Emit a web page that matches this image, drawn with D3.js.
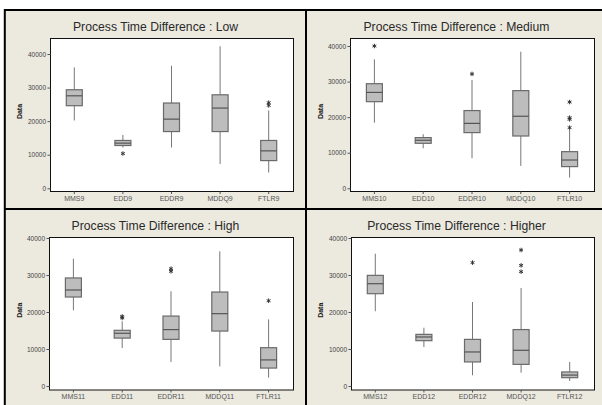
<!DOCTYPE html>
<html>
<head>
<meta charset="utf-8">
<script src="https://cdn.jsdelivr.net/npm/d3@7"></script>
<style>
  html, body { margin: 0; padding: 0; background: #ffffff; }
  svg { display: block; }
</style>
</head>
<body>
<svg id="chart" width="602" height="405"></svg>
<script>
// ---------- DATA ----------
const panelTitles = [
  "Process Time Difference : Low",
  "Process Time Difference : Medium",
  "Process Time Difference : High",
  "Process Time Difference : Higher"
];
const yTickValues = [0, 10000, 20000, 30000, 40000];
const yAxisLabel = "Data";

// categories
const categoriesLow    = ["MMS9", "EDD9", "EDDR9", "MDDQ9", "FTLR9"];
const categoriesMedium = ["MMS10", "EDD10", "EDDR10", "MDDQ10", "FTLR10"];
const categoriesHigh   = ["MMS11", "EDD11", "EDDR11", "MDDQ11", "FTLR11"];
const categoriesHigher = ["MMS12", "EDD12", "EDDR12", "MDDQ12", "FTLR12"];

// box stats: [lower whisker, Q1, median, Q3, upper whisker]
const statsLow = [
  [20200, 24600, 27550, 29350, 36000],
  [12150, 12750, 13450, 14250, 15900],
  [12150, 16900, 20600, 25400, 36500],
  [7250, 16900, 23900, 27850, 42300],
  [4700, 8250, 11150, 14250, 23200]
];
const statsMedium = [
  [18450, 24350, 26950, 29400, 36250],
  [11250, 12650, 13500, 14250, 15200],
  [8450, 15650, 18250, 21850, 30450],
  [6300, 14700, 20250, 27450, 38400],
  [3000, 6100, 7950, 10300, 16400]
];
const statsHigh = [
  [20450, 24050, 25950, 29200, 34400],
  [10250, 12950, 14250, 15050, 17500],
  [6500, 12600, 15250, 18900, 25600],
  [5300, 14850, 19550, 25400, 36400],
  [2250, 4850, 7050, 10350, 18000]
];
const statsHigher = [
  [20200, 24950, 27650, 29900, 35750],
  [10550, 12250, 13250, 13950, 15750],
  [2900, 6500, 9200, 12600, 22700],
  [3600, 5850, 9650, 15250, 26500],
  [1350, 2250, 2950, 3800, 6500]
];

// outliers per category
const outliersLow    = [[], [10350], [], [], [24700, 25500]];
const outliersMedium = [[40000], [], [32150], [], [17050, 19400, 19850, 24250]];
const outliersHigh   = [[], [18400, 18800], [31000, 31700], [], [23050]];
const outliersHigher = [[], [], [33350], [30900, 32600, 36750], []];

// ---------- LAYOUT ----------
const panels = [
  { title: panelTitles[0], cats: categoriesLow, stats: statsLow, outs: outliersLow,
    cx: 155.5, titleY: 27, left: 50, right: 293, top: 38, bottom: 191, zeroY: 188.3, maxY: 54, labelX: 19 },
  { title: panelTitles[1], cats: categoriesMedium, stats: statsMedium, outs: outliersMedium,
    cx: 456.5, titleY: 27, left: 350, right: 594, top: 38, bottom: 191, zeroY: 188.3, maxY: 46, labelX: 320 },
  { title: panelTitles[2], cats: categoriesHigh, stats: statsHigh, outs: outliersHigh,
    cx: 155.5, titleY: 226, left: 49, right: 293, top: 237, bottom: 389.5, zeroY: 386, maxY: 238, labelX: 19 },
  { title: panelTitles[3], cats: categoriesHigher, stats: statsHigher, outs: outliersHigher,
    cx: 456.5, titleY: 226, left: 351, right: 594, top: 237, bottom: 389.5, zeroY: 386, maxY: 238, labelX: 320 }
];

const svg = d3.select("#chart");

// beige background inside the frame
svg.append("rect").attr("x", 4).attr("y", 9).attr("width", 598).attr("height", 396).attr("fill", "#ECE9DF");

const fontFam = "Arial, 'Liberation Sans', sans-serif";

panels.forEach(p => {
  const g = svg.append("g");
  const x = d3.scaleBand().domain(p.cats).range([p.left, p.right]);
  const y = d3.scaleLinear().domain([0, 40000]).range([p.zeroY, p.maxY]);

  // plot area
  g.append("rect")
    .attr("x", p.left + 0.5).attr("y", p.top + 0.5)
    .attr("width", p.right - p.left).attr("height", p.bottom - p.top)
    .attr("fill", "#ffffff").attr("stroke", "#111").attr("stroke-width", 1);

  // title
  g.append("text")
    .attr("x", p.cx).attr("y", p.titleY)
    .attr("text-anchor", "middle").attr("dominant-baseline", "central")
    .attr("font-family", fontFam).attr("font-size", 12.2)
    .attr("fill", "#2a2a2a")
    .text(p.title);

  // y axis
  const ya = g.append("g")
    .attr("transform", `translate(${p.left + 0.5},0)`)
    .call(d3.axisLeft(y).tickValues(yTickValues).tickSize(3).tickPadding(1.5).tickFormat(d3.format("d")));
  ya.select(".domain").remove();
  ya.selectAll("line").attr("stroke", "#555");
  ya.selectAll("text").attr("font-family", fontFam).attr("font-size", 6.5).attr("fill", "#444");

  // x axis
  const xa = g.append("g")
    .attr("transform", `translate(0,${p.bottom + 0.5})`)
    .call(d3.axisBottom(x).tickSize(2.5).tickPadding(2));
  xa.select(".domain").remove();
  xa.selectAll("line").attr("stroke", "#555");
  xa.selectAll("text").attr("font-family", fontFam).attr("font-size", 7).attr("fill", "#555");

  // y label
  g.append("text")
    .attr("transform", `translate(${p.labelX},${(p.top + p.bottom) / 2 - 3}) rotate(-90)`)
    .attr("text-anchor", "middle").attr("dominant-baseline", "central")
    .attr("font-family", fontFam).attr("font-size", 7).attr("font-weight", "bold")
    .attr("fill", "#222")
    .text(yAxisLabel);

  const bw = 16;
  p.cats.forEach((c, i) => {
    const s = p.stats[i];
    const cxm = x(c) + x.bandwidth() / 2;
    // whiskers
    g.append("line").attr("x1", cxm).attr("x2", cxm).attr("y1", y(s[0])).attr("y2", y(s[1]))
      .attr("stroke", "#777").attr("stroke-width", 1);
    g.append("line").attr("x1", cxm).attr("x2", cxm).attr("y1", y(s[3])).attr("y2", y(s[4]))
      .attr("stroke", "#777").attr("stroke-width", 1);
    // box
    g.append("rect")
      .attr("x", cxm - bw / 2).attr("y", y(s[3]))
      .attr("width", bw).attr("height", y(s[1]) - y(s[3]))
      .attr("fill", "#BDBDBD").attr("stroke", "#6A6A6A").attr("stroke-width", 1.2);
    // median
    g.append("line").attr("x1", cxm - bw / 2).attr("x2", cxm + bw / 2)
      .attr("y1", y(s[2])).attr("y2", y(s[2]))
      .attr("stroke", "#555").attr("stroke-width", 1.2);
    // outliers
    p.outs[i].forEach(v => {
      g.append("path")
        .attr("d", d3.symbol(d3.symbolAsterisk, 14)())
        .attr("transform", `translate(${cxm},${y(v)})`)
        .attr("fill", "none").attr("stroke", "#333").attr("stroke-width", 1);
    });
  });
});

// black frame lines
const frame = svg.append("g").attr("stroke", "#000").attr("stroke-width", 2);
frame.append("line").attr("x1", 4).attr("x2", 602).attr("y1", 10).attr("y2", 10);
frame.append("line").attr("x1", 4.8).attr("x2", 4.8).attr("y1", 9).attr("y2", 405);
frame.append("line").attr("x1", 306).attr("x2", 306).attr("y1", 9).attr("y2", 405);
frame.append("line").attr("x1", 4).attr("x2", 602).attr("y1", 209).attr("y2", 209);
</script>
</body>
</html>
